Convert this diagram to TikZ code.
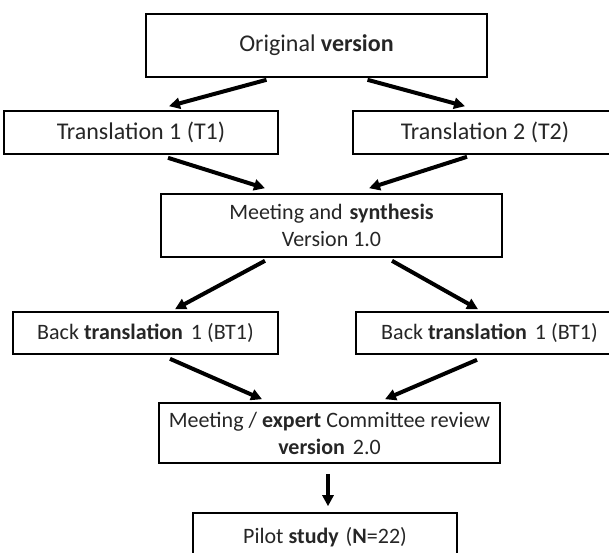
\documentclass[tikz,border=0pt]{standalone}
\usepackage{fontspec}
\setmainfont{Carlito}
\usetikzlibrary{arrows.meta}
\begin{document}
\begin{tikzpicture}[x=1pt, y=-1pt]
        \tikzset{
            stage/.style={
                    rectangle,
                    draw=black,
                    line width=1.6pt,
                    inner sep=0pt,
                    align=center,
                    text=black!85,
                    font=\fontsize{22}{27}\selectfont,
                },
            large stage/.style={stage, font=\fontsize{24}{27}\selectfont},
            flow/.style={-{Triangle[length=11pt, width=11pt]}, line width=4pt},
        }
        \useasboundingbox (0, 0) rectangle (609, 552);
        % \draw (0, 0) grid[step=50] (609, 552);
        \node[large stage, minimum width=341pt, minimum height=63pt] (orig) at (316.5, 45.5) {Original \textbf{version}};
        \node[large stage, minimum width=274pt, minimum height=43pt] (trans1) at (141, 132.5) {Translation 1 (T1)};
        \node[large stage, minimum width=264pt, minimum height=43pt] (trans2) at (485, 132.5) {Translation 2 (T2)};
        \node[stage, minimum width=341pt, minimum height=63pt] (synth) at (331.5, 225.5) {Meeting and\hspace{2pt} \textbf{synthesis}\\Version 1.0};
        \node[stage, minimum width=265pt, minimum height=42pt] (back1) at (145.5, 333) {Back \textbf{translation}\hspace{3pt} 1 (BT1)};
        \node[stage, minimum width=267pt, minimum height=42pt] (back2) at (489.5, 333) {Back \textbf{translation}\hspace{3pt} 1 (BT1)};
        \node[stage, minimum width=341pt, minimum height=60pt] (review) at (329.5, 433) {Meeting / \textbf{expert} Committee review\\\textbf{version}\hspace{3pt} 2.0};
        \node[stage, minimum width=264pt, minimum height=48pt] (pilot) at (325, 537) {Pilot \textbf{study}\hspace{2pt} (\textbf{N}=22)};
        \draw[flow] ([xshift=-50pt, yshift=-2pt]orig.south) -- ([xshift=28pt, yshift=4pt]trans1.north);
        \draw[flow] ([xshift=51pt, yshift=-2pt]orig.south) -- ([xshift=-20pt, yshift=4pt]trans2.north);
        \draw[flow] ([xshift=27pt, yshift=-3pt]trans1.south) -- ([xshift=-66.5pt, yshift=5pt]synth.north);
        \draw[flow] ([xshift=-18pt, yshift=-2pt]trans2.south) -- ([xshift=37.5pt, yshift=5pt]synth.north);
        \draw[flow] ([xshift=-66.5pt, yshift=-3pt]synth.south) -- ([xshift=29.5pt, yshift=2pt]back1.north);
        \draw[flow] ([xshift=60.5pt, yshift=-3pt]synth.south) -- ([xshift=-11.5pt, yshift=2pt]back2.north);
        \draw[flow] ([xshift=24.5pt, yshift=-4pt]back1.south) -- ([xshift=-67.5pt, yshift=3pt]review.north);
        \draw[flow] ([xshift=-12.5pt, yshift=-5pt]back2.south) -- ([xshift=55.5pt, yshift=3pt]review.north);
        \draw[flow] ([xshift=-1.5pt, yshift=-10pt]review.south) -- ([xshift=3pt, yshift=6pt]pilot.north);
    \end{tikzpicture}
\end{document}
